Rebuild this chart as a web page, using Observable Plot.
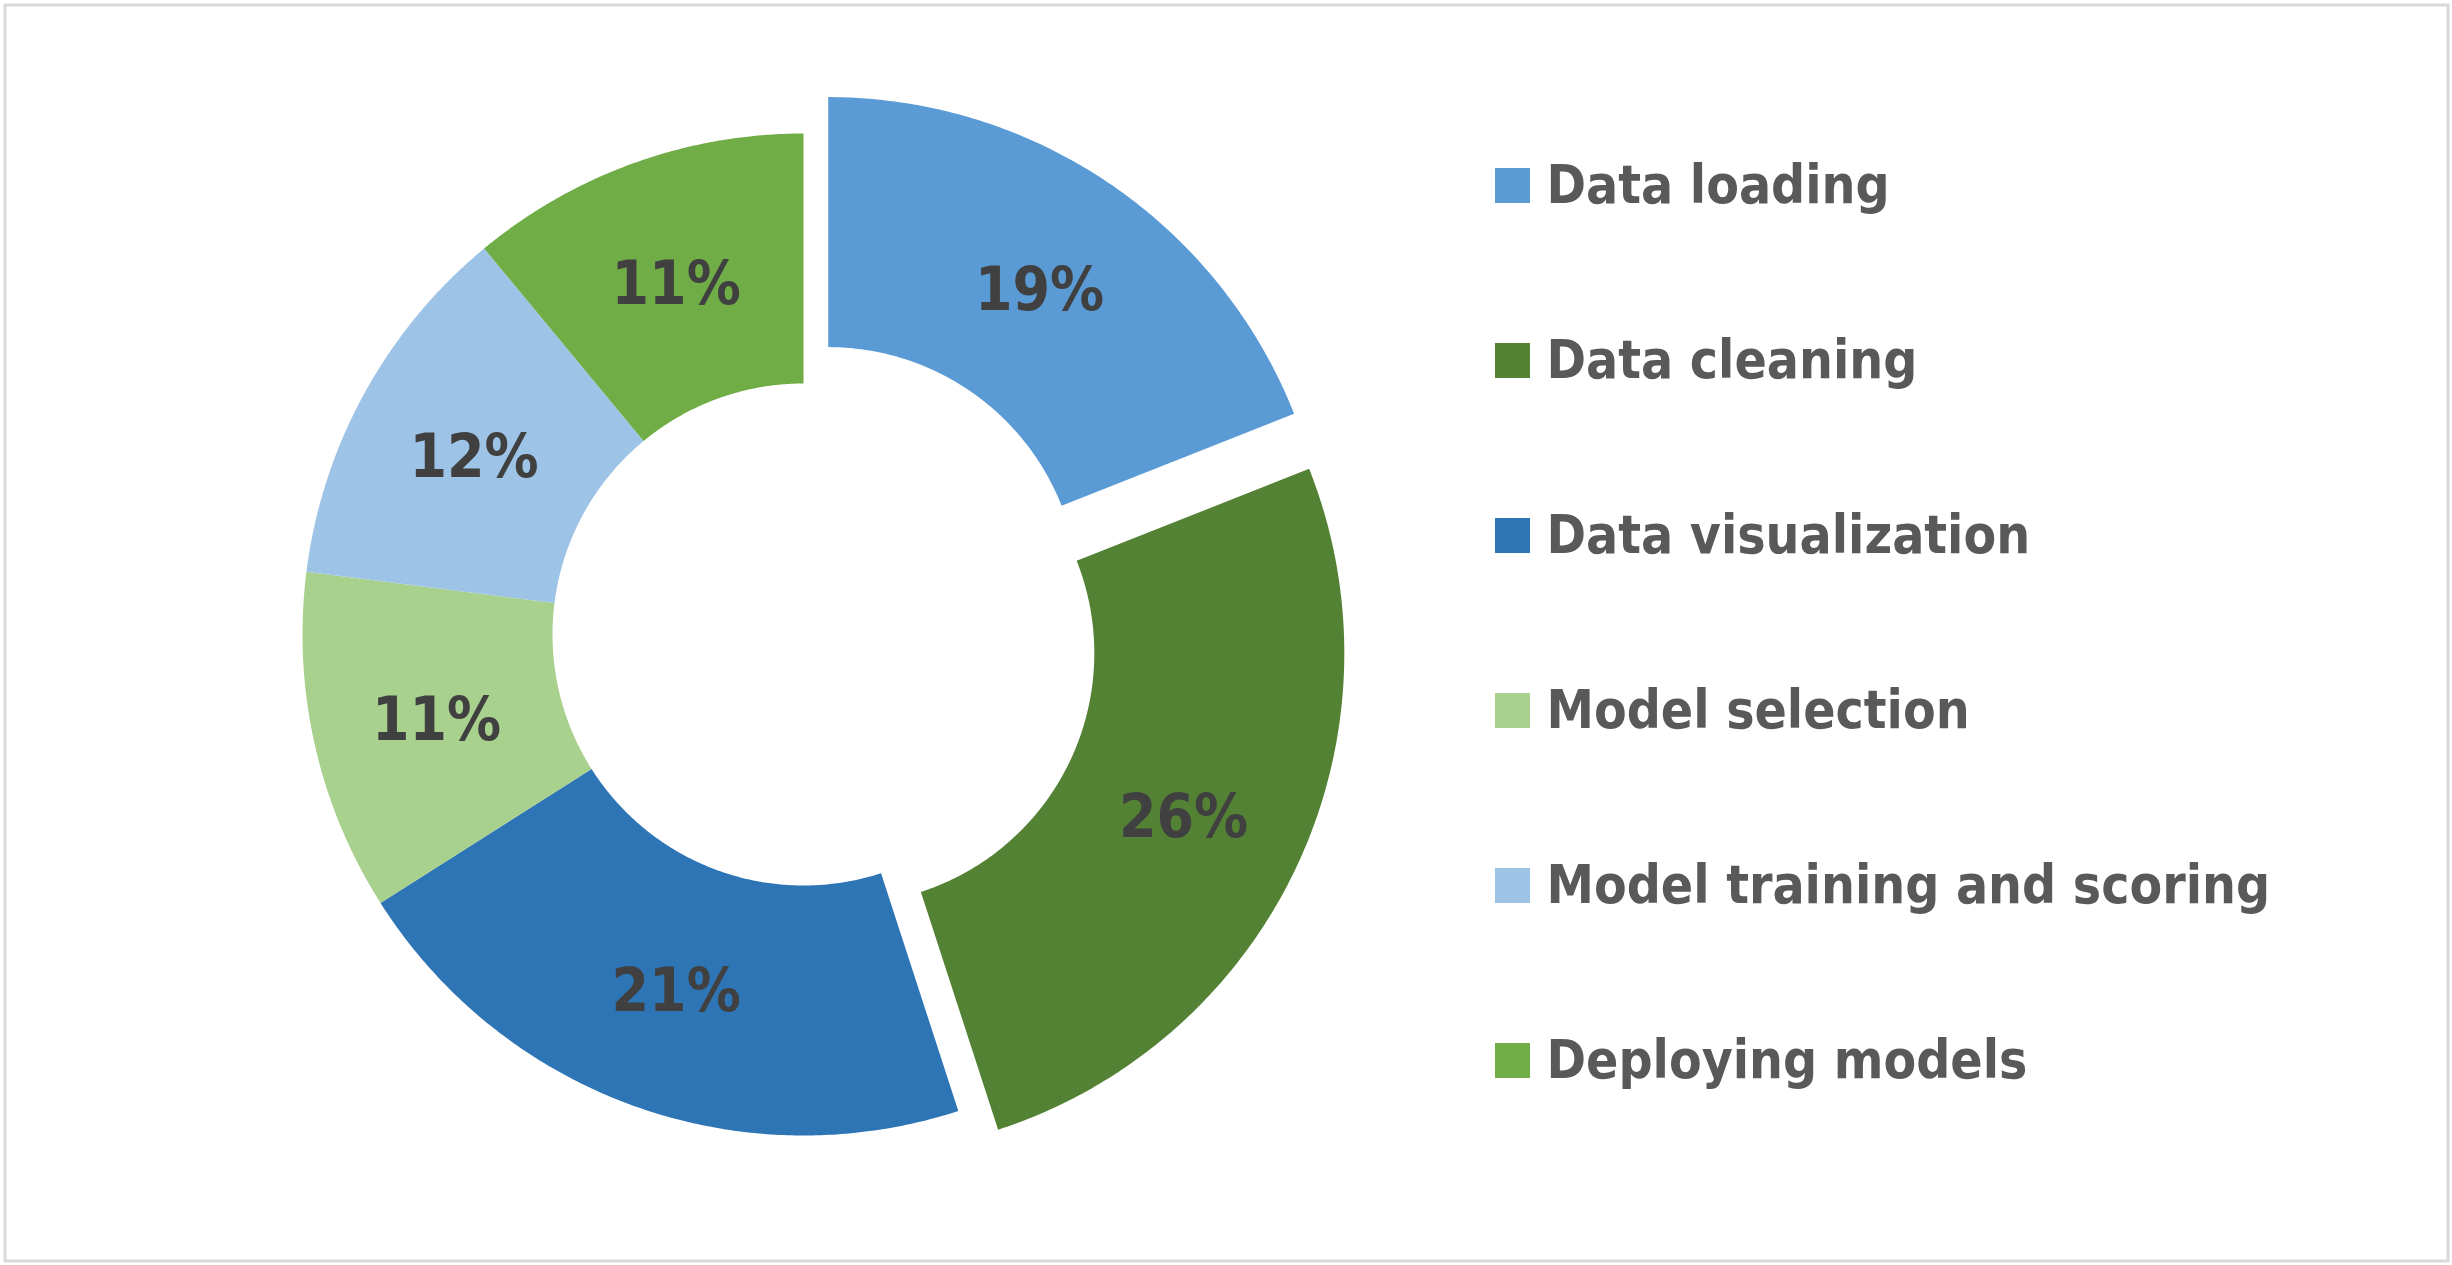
<!DOCTYPE html>
<html>
<head>
<meta charset="utf-8">
<script src="https://cdn.jsdelivr.net/npm/d3@7"></script>
<script src="https://cdn.jsdelivr.net/npm/@observablehq/plot@0.6"></script>
<style>
  html, body { margin: 0; padding: 0; background: #ffffff; }
  #chart svg { display: block; }
</style>
</head>
<body>
<div id="chart"></div>
<script>
// ---- data ----
const categories = ["Data loading", "Data cleaning", "Data visualization", "Model selection", "Model training and scoring", "Deploying models"];
const values = [19, 26, 21, 11, 12, 11];
const colors = ["#5B9BD5", "#548235", "#2E75B6", "#A9D18E", "#9DC3E6", "#70AD47"];
const exploded = [true, true, false, false, false, false];

// ---- layout ----
const W = 2452, H = 1265;
const CX = 803, CY = 634, R_OUT = 501, R_IN = 251, EXPLODE = 44;
const LEG_X = 1512, LEG_Y0 = 185, LEG_DY = 175, LEG_TEXT_X = 1546;
const FONT = "'Liberation Sans Narrow', 'DejaVu Sans Condensed', 'Roboto Condensed', 'Open Sans', sans-serif";

const pie = d3.pie().sort(null).value(d => d)(values);
const total = d3.sum(values);

const ringPts = [];
const labels = [];
pie.forEach((p, i) => {
  const mid = (p.startAngle + p.endAngle) / 2;
  const off = exploded[i] ? EXPLODE : 0;
  const ox = CX + off * Math.sin(mid), oy = CY - off * Math.cos(mid);
  const n = 160;
  for (let k = 0; k <= n; k++) {
    const a = p.startAngle + (p.endAngle - p.startAngle) * k / n;
    ringPts.push({cat: categories[i], x: ox + R_OUT * Math.sin(a), y: oy - R_OUT * Math.cos(a)});
  }
  for (let k = n; k >= 0; k--) {
    const a = p.startAngle + (p.endAngle - p.startAngle) * k / n;
    ringPts.push({cat: categories[i], x: ox + R_IN * Math.sin(a), y: oy - R_IN * Math.cos(a)});
  }
  const rm = (R_OUT + R_IN) / 2;
  labels.push({cat: categories[i], text: Math.round(values[i] / total * 100) + "%",
               x: ox + rm * Math.sin(mid), y: oy - rm * Math.cos(mid)});
});

const legend = categories.map((c, i) => ({cat: c, x: LEG_X, tx: LEG_TEXT_X, y: LEG_Y0 + i * LEG_DY}));

const chart = Plot.plot({
  width: W,
  height: H,
  margin: 0,
  x: {domain: [0, W], range: [0, W], axis: null},
  y: {domain: [0, H], range: [0, H], axis: null},
  color: {domain: categories, range: colors},
  style: {background: "#ffffff"},
  marks: [
    Plot.frame({stroke: "#D9D9D9", strokeWidth: 3, inset: 4.5}),
    Plot.line(ringPts, {x: "x", y: "y", z: "cat", fill: "cat", stroke: "none", curve: "linear-closed"}),
    Plot.text(labels, {x: "x", y: "y", dy: 4, text: "text", fill: "#404040", fontSize: 60, fontWeight: "bold", fontFamily: FONT}),
    Plot.dot(legend, {x: "x", y: "y", fill: "cat", symbol: "square", r: 35 / Math.sqrt(Math.PI), stroke: "none"}),
    Plot.text(legend, {x: "tx", y: "y", dy: 1, text: "cat", textAnchor: "start", fill: "#595959", fontSize: 53, fontWeight: "bold", fontFamily: FONT})
  ]
});
document.getElementById("chart").appendChild(chart);
</script>
</body>
</html>
